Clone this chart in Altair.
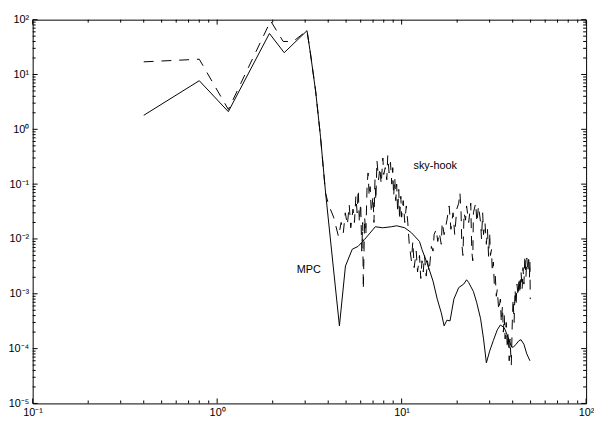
import altair as alt
import pandas as pd

# MPC (solid) response
mpc_x = [0.4, 0.8, 1.15, 1.92, 2.31, 3.07, 3.2, 3.42, 3.63, 3.87, 4.6,
         4.96, 5.4, 5.8, 6.3, 7.2, 7.9, 8.8, 9.4, 10.4, 11.3, 12.5, 12.9, 13.8,
         14.8, 15.6, 16.4, 17.0, 17.6, 18.3, 19.2, 20.4, 21.7, 22.5, 23.1, 24.5,
         25.5, 26.8, 27.8, 28.8, 30.0, 31.4, 33.0, 34.3, 36.0, 37.8, 39.3, 40.2,
         41.7, 43.3, 44.4, 46.0, 47.7, 49.6]
mpc_y = [1.8, 7.7, 2.1, 56, 25, 63, 25, 4.9, 0.75, 0.07, 2.6e-4,
         3.2e-3, 6.5e-3, 7.3e-3, 9.8e-3, 0.0167, 0.016, 0.0167, 0.0174, 0.016, 0.013, 0.009, 0.0064, 0.0035,
         0.0017, 8e-4, 4.5e-4, 2.6e-4, 3.3e-4, 3.2e-4, 8e-4, 1.3e-3, 1.5e-3, 1.8e-3, 1.6e-3, 1.1e-3,
         7e-4, 3.5e-4, 1.5e-4, 5.5e-5, 9e-5, 1.4e-4, 2.2e-4, 2.7e-4, 2.4e-4, 1.6e-4, 1.1e-4, 1.05e-4,
         1.2e-4, 1.4e-4, 1.45e-4, 1.2e-4, 8e-5, 6e-5]

# sky-hook (dashed) response
sky_x = [0.4, 0.8, 1.15, 1.95, 2.28, 2.58, 3.07, 3.2, 3.42, 3.63, 3.87, 4.02, 4.28, 4.55,
         4.7, 4.83, 4.95, 5.08, 5.2, 5.3, 5.45, 5.55, 5.65, 5.74, 5.82, 5.9, 6.0, 6.08, 6.15, 6.2,
         6.3, 6.4, 6.5, 6.58, 6.67, 6.75, 6.85, 7.0, 7.08, 7.17, 7.25, 7.35, 7.5, 7.62, 7.75, 7.91,
         8.0, 8.15, 8.31, 8.41, 8.55, 8.7, 8.85, 8.95, 9.05, 9.18, 9.3, 9.4, 9.52, 9.65, 9.75, 9.9,
         10.0, 10.2, 10.4, 10.6, 10.8, 11.0, 11.3, 11.5, 11.7, 12.0, 12.2, 12.5, 12.7, 12.9, 13.1,
         13.3, 13.6, 13.8, 14.1, 14.5, 14.8, 15.0, 15.4, 15.7, 16.0, 16.4, 16.6, 17.0, 17.6, 18.1,
         18.5, 19.0, 19.4, 19.9, 20.4, 20.7, 21.0, 21.2, 21.5, 21.8, 22.2, 22.5, 23.1, 23.7, 24.0,
         24.3, 24.5, 25.2, 25.6, 26.1, 26.8, 27.1, 27.5, 27.8, 28.3, 28.8, 29.2, 29.6, 30.0, 30.3,
         30.7, 31.0, 31.4, 31.8, 32.2, 32.6, 33.0, 33.6, 34.3, 34.7, 35.2, 35.6, 36.0, 36.4, 36.9,
         37.4, 37.8, 38.3, 38.7, 39.3, 39.8, 40.2, 40.7, 41.2, 41.7, 42.2, 42.8, 43.3, 43.8, 44.4,
         45.0, 45.5, 46.0, 46.6, 47.2, 47.7, 48.3, 48.8, 49.3, 49.6, 49.8]
sky_y = [17, 19, 2.3, 95, 40, 40, 63, 25, 5, 0.75, 0.068, 0.042, 0.025, 0.011,
         0.02, 0.013, 0.03, 0.018, 0.042, 0.016, 0.035, 0.02, 0.06, 0.03, 0.08, 0.02, 0.045, 0.006, 0.02, 0.0012,
         0.025, 0.012, 0.1, 0.16, 0.06, 0.09, 0.03, 0.06, 0.02, 0.12, 0.05, 0.27, 0.12, 0.2, 0.1, 0.3,
         0.15, 0.2, 0.12, 0.33, 0.16, 0.25, 0.1, 0.2, 0.06, 0.13, 0.05, 0.1, 0.03, 0.08, 0.022, 0.06,
         0.025, 0.05, 0.02, 0.04, 0.02, 0.008, 0.004, 0.009, 0.003, 0.006, 0.0025, 0.005, 0.0019, 0.004, 0.0025,
         0.005, 0.0021, 0.004, 0.0025, 0.0073, 0.006, 0.012, 0.015, 0.009, 0.013, 0.008, 0.02, 0.012, 0.022, 0.04,
         0.015, 0.03, 0.012, 0.035, 0.045, 0.07, 0.03, 0.008, 0.005, 0.03, 0.022, 0.04, 0.02, 0.045, 0.006,
         0.004, 0.03, 0.045, 0.02, 0.04, 0.02, 0.01, 0.03, 0.012, 0.02, 0.008, 0.015, 0.0048, 0.013, 0.005,
         0.0064, 0.0025, 0.0038, 0.0015, 0.0021, 0.0009, 0.0012, 0.0005, 0.0008, 0.0003, 0.0006, 0.0002, 0.0004, 0.00015, 0.0003,
         0.0001, 0.0002, 0.00006, 0.00015, 0.00005, 0.0003, 0.0008, 0.0003, 0.0012, 0.0006, 0.0015, 0.0009, 0.002, 0.001, 0.0025,
         0.0012, 0.003, 0.0015, 0.005, 0.002, 0.0045, 0.0025, 0.005, 0.002, 0.004, 0.0008]

labels_text = ["sky-hook", "MPC"]
labels_x = [11.6, 2.7]
labels_y = [0.21, 0.0027]

x_major = [0.1, 1, 10, 100]
y_major = [1e-5, 1e-4, 1e-3, 1e-2, 1e-1, 1, 10, 100]
x_minor = [m * d for d in [0.1, 1, 10] for m in range(2, 10)]
y_minor = [m * d for d in [1e-5, 1e-4, 1e-3, 1e-2, 1e-1, 1, 10] for m in range(2, 10)]

W, H = 561, 389
FONT = "Liberation Sans"

xs = alt.Scale(type="log", domain=[0.1, 100], nice=False)
ys = alt.Scale(type="log", domain=[1e-5, 100], nice=False)

xlab = "['10⁻¹','10⁰','10¹','10²'][round(log(datum.value)/LN10)+1]"
ylab = "['10⁻⁵','10⁻⁴','10⁻³','10⁻²','10⁻¹','10⁰','10¹','10²'][round(log(datum.value)/LN10)+5]"

mpc = pd.DataFrame({"x": mpc_x, "y": mpc_y})
sky = pd.DataFrame({"x": sky_x, "y": sky_y})

base_x = alt.X("x:Q", scale=xs, axis=alt.Axis(values=x_major, labelExpr=xlab, title=None, grid=False,
                                              ticks=False, domain=False, labelFont=FONT, labelFontSize=11,
                                              labelColor="black", labelPadding=3, labelFlush=False))
base_y = alt.Y("y:Q", scale=ys, axis=alt.Axis(values=y_major, labelExpr=ylab, title=None, grid=False,
                                              ticks=False, domain=False, labelFont=FONT, labelFontSize=11,
                                              labelColor="black", labelPadding=4, labelFlush=False))

line_mpc = alt.Chart(mpc).mark_line(color="black", strokeWidth=1, clip=True).encode(
    x=base_x, y=base_y, order=alt.Order("x:Q"))
line_sky = alt.Chart(sky).mark_line(color="black", strokeWidth=1, strokeDash=[10, 8], clip=True).encode(
    x=alt.X("x:Q", scale=xs), y=alt.Y("y:Q", scale=ys), order=alt.Order("x:Q"))

ann = alt.Chart(pd.DataFrame({"t": labels_text, "x": labels_x, "y": labels_y})).mark_text(
    align="left", baseline="middle", font=FONT, fontSize=11, color="black").encode(
    x=alt.X("x:Q", scale=xs), y=alt.Y("y:Q", scale=ys), text="t:N")

def xticks(vals, ln):
    df = pd.DataFrame({"x": vals})
    bot = alt.Chart(df).mark_rule(color="black", strokeWidth=1).encode(
        x=alt.X("x:Q", scale=xs), y=alt.value(H), y2=alt.value(H - ln))
    top = alt.Chart(df).mark_rule(color="black", strokeWidth=1).encode(
        x=alt.X("x:Q", scale=xs), y=alt.value(0), y2=alt.value(ln))
    return [bot, top]

def yticks(vals, ln):
    df = pd.DataFrame({"y": vals})
    left = alt.Chart(df).mark_rule(color="black", strokeWidth=1).encode(
        y=alt.Y("y:Q", scale=ys), x=alt.value(0), x2=alt.value(ln))
    right = alt.Chart(df).mark_rule(color="black", strokeWidth=1).encode(
        y=alt.Y("y:Q", scale=ys), x=alt.value(W), x2=alt.value(W - ln))
    return [left, right]

layers = [line_mpc, line_sky, ann] + xticks(x_major, 5) + xticks(x_minor, 3) + yticks(y_major, 5) + yticks(y_minor, 3)

chart = alt.layer(*layers).properties(
    width=W, height=H,
    padding={"left": 25, "top": 9, "right": 8, "bottom": 16},
    autosize=alt.AutoSizeParams(type="none"),
    background="white",
).configure_view(stroke="black", strokeWidth=1)

chart.save("out.html", embed_options={"renderer": "svg", "actions": False})
